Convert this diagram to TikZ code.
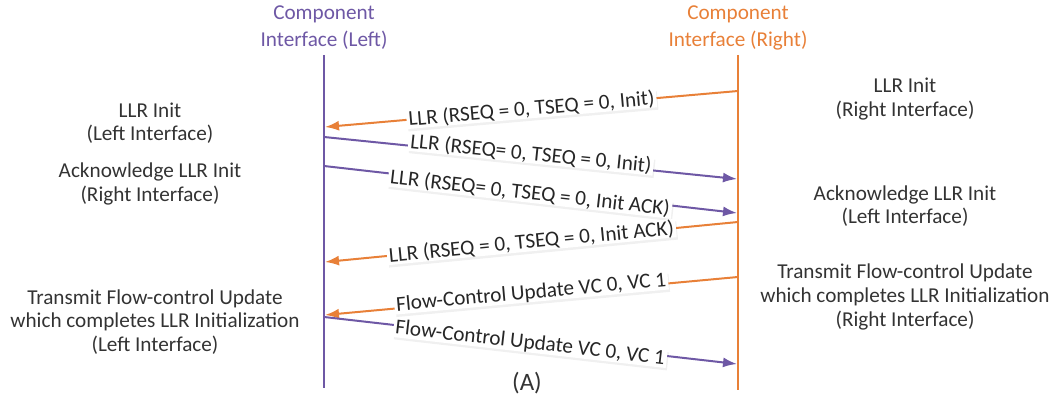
\documentclass[tikz,border=0pt]{standalone}
\usepackage{fontspec}
\setmainfont{Carlito}
\usepackage{tikz}
\usetikzlibrary{arrows.meta,shadows}
\definecolor{ifleft}{RGB}{110,88,165}
\definecolor{ifright}{RGB}{232,128,56}
\tikzstyle{lifeline} = [line width=1pt]
\tikzstyle{msg} = [line width=1pt, -{Latex[length=7pt,width=5pt]}]
\tikzstyle{msgtext} = [midway, sloped, fill=white, inner xsep=1pt, inner ysep=0pt, text=black!85,
    font=\fontsize{10.6}{12}\selectfont,
    drop shadow={opacity=0.12, shadow xshift=0.6pt, shadow yshift=-1.2pt}]
\tikzstyle{note} = [align=center, font=\fontsize{10.6}{11.8}\selectfont, text=black!80]
\tikzstyle{head} = [align=center, font=\fontsize{10.6}{13.5}\selectfont]

\begin{document}
\begin{tikzpicture}[x=0.5pt, y=-0.5pt]
\useasboundingbox (0,0) rectangle (1054,405);

% interface headers and lifelines
\node [head, text=ifleft] (hleft) at (324,28) {Component\\Interface (Left)};
\node [head, text=ifright] (hright) at (738,28) {Component\\Interface (Right)};
\coordinate (ltop) at (324,55);
\coordinate (lbot) at (324,388);
\coordinate (rtop) at (738,55);
\coordinate (rbot) at (738,390);
\draw [lifeline, ifleft] (ltop) -- (lbot);
\draw [lifeline, ifright] (rtop) -- (rbot);

% message end points on the lifelines
\coordinate (r1) at (738,91);   \coordinate (l1) at (325,127);
\coordinate (l2) at (324,137);  \coordinate (r2) at (737,179);
\coordinate (l3) at (324,166);  \coordinate (r3) at (737,213);
\coordinate (r4) at (738,222);  \coordinate (l4) at (325,262);
\coordinate (r5) at (738,277);  \coordinate (l5) at (325,315);
\coordinate (l6) at (324,317);  \coordinate (r6) at (737,364);

% messages
\draw [msg, ifright] (r1) -- node [msgtext] (m1) {LLR (RSEQ = 0, TSEQ = 0, Init)} (l1);
\draw [msg, ifleft] (l2) -- node [msgtext, yshift=2pt] (m2) {LLR (RSEQ= 0, TSEQ = 0, Init)} (r2);
\draw [msg, ifleft] (l3) -- node [msgtext, yshift=-2pt] (m3) {LLR (RSEQ= 0, TSEQ = 0, Init ACK)} (r3);
\draw [msg, ifright] (r4) -- node [msgtext] (m4) {LLR (RSEQ = 0, TSEQ = 0, Init ACK)} (l4);
\draw [msg, ifright] (r5) -- node [msgtext, yshift=1.5pt] (m5) {Flow-Control Update VC 0, VC 1} (l5);
\draw [msg, ifleft] (l6) -- node [msgtext, yshift=-1.5pt] (m6) {Flow-Control Update VC 0, VC 1} (r6);

% notes on the left
\node [note] (nl1) at (150,123) {LLR Init\\(Left Interface)};
\node [note] (nl2) at (150,184) {Acknowledge LLR Init\\(Right Interface)};
\node [note] (nl3) at (155,322) {Transmit Flow-control Update\\which completes LLR Initialization\\(Left Interface)};

% notes on the right
\node [note] (nr1) at (905,99) {LLR Init\\(Right Interface)};
\node [note] (nr2) at (905,206) {Acknowledge LLR Init\\(Left Interface)};
\node [note] (nr3) at (905,297) {Transmit Flow-control Update\\which completes LLR Initialization\\(Right Interface)};

\node [note, font=\fontsize{12.5}{14}\selectfont] (caption) at (527,383) {(A)};
\end{tikzpicture}
\end{document}
